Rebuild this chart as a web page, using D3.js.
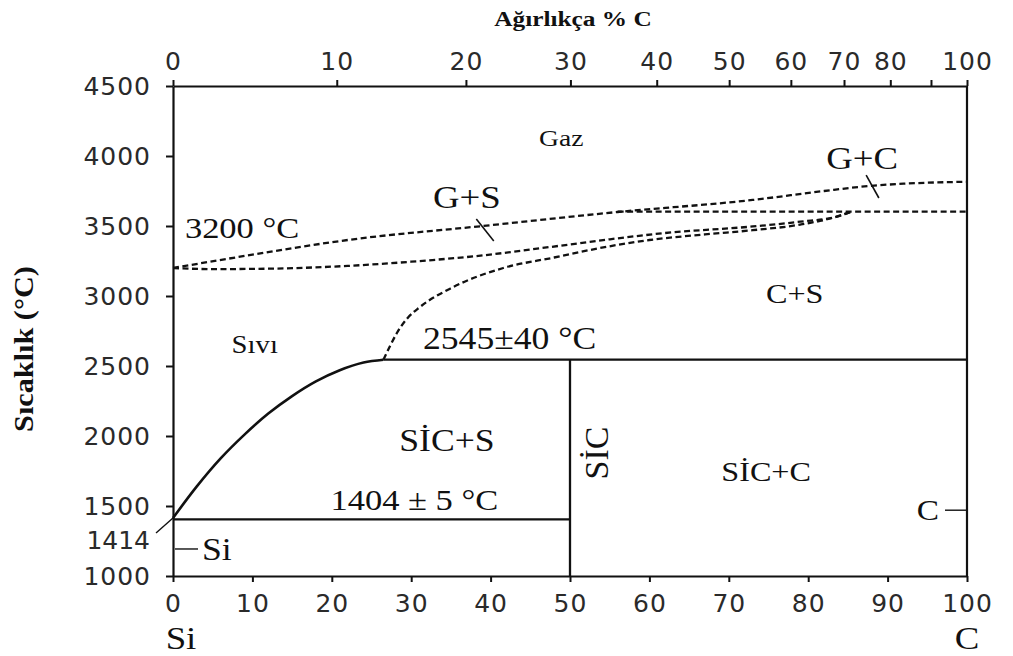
<!DOCTYPE html>
<html>
<head>
<meta charset="utf-8">
<script src="https://cdn.jsdelivr.net/npm/d3@7"></script>
<style>
  body { margin: 0; background: #fff; }
  svg { display: block; }
</style>
</head>
<body>
<script>
// Si-C phase diagram

var w = 1013;
var h = 656;

// tick values
var xTicks = [0, 10, 20, 30, 40, 50, 60, 70, 80, 90, 100];
var yTicks = [1000, 1500, 2000, 2500, 3000, 3500, 4000, 4500];
var topTicksWt = [0, 10, 20, 30, 40, 50, 60, 70, 80, 90, 100];
var topTickLabels = ["0", "10", "20", "30", "40", "50", "60", "70", "80", "", "100"];

// boundaries, [atom % C, temperature °C]
var liquidusSi = [[0, 1414], [3, 1640], [6, 1840], [9, 2010], [12, 2160], [15, 2285],
  [18, 2390], [21, 2470], [24, 2525], [26.5, 2545]];
var liquidusC = [[26.5, 2545], [27.4, 2650], [28.2, 2736], [29.5, 2840], [31.1, 2921], [35.3, 3064],
  [41.6, 3200], [48, 3275], [54, 3345], [60, 3400], [67, 3440], [73, 3470], [79, 3510],
  [83.6, 3567], [85.3, 3600]];
var liquidGas = [[0, 3200], [5, 3192], [12, 3195], [22, 3215], [30, 3245], [39, 3290],
  [47.5, 3350], [55, 3405], [62, 3450], [72.7, 3495], [79, 3531], [83.6, 3567], [85.3, 3600]];
var gasBoundary = [[0, 3200], [10, 3295], [22, 3400], [39, 3500], [56, 3600], [73, 3686],
  [82, 3750], [87.5, 3785], [92, 3802], [100, 3816]];
var gasCarbon = [[56, 3602], [100, 3602]];
var eutectic = [[0, 1404], [50, 1404]];
var peritectic = [[26.5, 2545], [100, 2545]];
var sicLine = [[50, 1000], [50, 2545]];
var tieGS = [[38.2, 3550], [40.4, 3393]];
var tieGC = [[87.3, 3864], [88.9, 3700]];

// labels inside the diagram
var labels = [
  { t: "Gaz", x: 48.9, y: 4129, s: 24 },
  { t: "G+S", x: 37, y: 3707, s: 32 },
  { t: "G+C", x: 86.8, y: 3986, s: 32 },
  { t: "3200 °C", x: 8.7, y: 3486, s: 30 },
  { t: "C+S", x: 78.3, y: 3014, s: 28 },
  { t: "Sıvı", x: 10.3, y: 2650, s: 25 },
  { t: "2545±40 °C", x: 42.4, y: 2700, s: 31 },
  { t: "SİC+S", x: 34.5, y: 1971, s: 31 },
  { t: "SİC+C", x: 74.7, y: 1743, s: 28 },
  { t: "1404 ± 5 °C", x: 30.4, y: 1543, s: 30 }
];

var serif = "'Liberation Serif', 'Times New Roman', serif";
var sans = "'DejaVu Sans', sans-serif";
var stretch = 1.15;

var x = d3.scaleLinear().domain([0, 100]).range([173, 967]);
var y = d3.scaleLinear().domain([1000, 4500]).range([576, 86]);

// weight % C to atom % C
function wtToAt(wt) {
  var c = wt / 12.011;
  var si = (100 - wt) / 28.086;
  return (100 * c) / (c + si);
}

var svg = d3.select("body").append("svg").attr("width", w).attr("height", h);

svg.append("rect").attr("width", w).attr("height", h).attr("fill", "#fff");

//Axes
var leftAxis = svg.append("g")
  .attr("transform", "translate(" + x(0) + ",0)")
  .call(d3.axisLeft(y).tickValues(yTicks).tickFormat(d3.format("d"))
    .tickSize(7).tickSizeOuter(0).tickPadding(15));

var bottomAxis = svg.append("g")
  .attr("transform", "translate(0," + y(1000) + ")")
  .call(d3.axisBottom(x).tickValues(xTicks).tickFormat(d3.format("d"))
    .tickSize(6).tickSizeOuter(0).tickPadding(12));

var topAxis = svg.append("g")
  .attr("transform", "translate(0," + y(4500) + ")")
  .call(d3.axisTop(x).tickValues(topTicksWt.map(wtToAt)).tickSize(6).tickSizeOuter(0).tickPadding(10)
    .tickFormat(function (d, i) { return topTickLabels[i]; }));

[leftAxis, bottomAxis, topAxis].forEach(function (g) {
  g.selectAll("path.domain").attr("stroke", "#111").attr("stroke-width", 2.2);
  g.selectAll(".tick line").attr("stroke", "#111").attr("stroke-width", 2);
  g.selectAll(".tick text")
    .style("font-family", sans)
    .style("font-size", "25px")
    .style("letter-spacing", "1px")
    .attr("fill", "#2a2a2a");
});

// right border
svg.append("line")
  .attr("x1", x(100)).attr("x2", x(100))
  .attr("y1", y(4500)).attr("y2", y(1000))
  .attr("stroke", "#111").attr("stroke-width", 2.2);

var line = d3.line()
  .x(function (d) { return x(d[0]); })
  .y(function (d) { return y(d[1]); });

var smooth = d3.line()
  .x(function (d) { return x(d[0]); })
  .y(function (d) { return y(d[1]); })
  .curve(d3.curveMonotoneX);

var round = d3.line()
  .x(function (d) { return x(d[0]); })
  .y(function (d) { return y(d[1]); })
  .curve(d3.curveCatmullRom.alpha(0.5));

// solid lines
svg.append("path").attr("d", round(liquidusSi))
  .attr("fill", "none").attr("stroke", "#111").attr("stroke-width", 2.6);

[eutectic, peritectic, sicLine].forEach(function (seg) {
  svg.append("path").attr("d", line(seg))
    .attr("fill", "none").attr("stroke", "#111").attr("stroke-width", 2.3);
});

// dashed lines
[liquidusC, liquidGas, gasBoundary, gasCarbon].forEach(function (seg) {
  svg.append("path").attr("d", smooth(seg))
    .attr("fill", "none").attr("stroke", "#111").attr("stroke-width", 2.3)
    .attr("stroke-dasharray", "6,3.5");
});

// little tie marks
[tieGS, tieGC].forEach(function (seg) {
  svg.append("path").attr("d", line(seg))
    .attr("fill", "none").attr("stroke", "#111").attr("stroke-width", 1.6);
});

// text helper, horizontally stretched serif
function label(px, py, txt, size, anchor, opts) {
  opts = opts || {};
  var t = svg.append("text")
    .attr("transform", "translate(" + px + "," + py + ")" +
      (opts.rotate ? " rotate(" + opts.rotate + ")" : "") +
      " scale(" + (opts.sx || stretch) + ",1)")
    .attr("text-anchor", anchor || "middle")
    .attr("dominant-baseline", "central")
    .style("font-family", opts.font || serif)
    .style("font-size", size + "px")
    .style("font-weight", opts.bold ? "bold" : "normal")
    .attr("fill", opts.fill || "#111")
    .text(txt);
  return t;
}

// region labels
labels.forEach(function (d) {
  label(x(d.x), y(d.y), d.t, d.s);
});

// SiC compound, vertical text
label(x(50) + 26, y(1879), "SİC", 34, "middle", { rotate: -90, sx: 1 });

// 1414 melting point of Si
svg.append("line")
  .attr("x1", x(0) - 17).attr("y1", y(1414) + 15)
  .attr("x2", x(0)).attr("y2", y(1414))
  .attr("stroke", "#111").attr("stroke-width", 1.4);
label(x(0) - 23, y(1414) + 22, "1414", 25, "end", { font: sans, sx: 1, fill: "#2a2a2a" });

// Si marker
svg.append("line")
  .attr("x1", x(0) + 2).attr("x2", x(0) + 25)
  .attr("y1", y(1193)).attr("y2", y(1193))
  .attr("stroke", "#111").attr("stroke-width", 1.4);
label(x(0) + 29, y(1193), "Si", 31, "start");

// C marker
svg.append("line")
  .attr("x1", x(100) - 22).attr("x2", x(100))
  .attr("y1", y(1470)).attr("y2", y(1470))
  .attr("stroke", "#111").attr("stroke-width", 1.4);
label(x(100) - 28, y(1470), "C", 29, "end");

// end members below the axis
label(x(0) + 8, 638, "Si", 32, "middle");
label(x(100), 638, "C", 32, "middle");

// axis titles
label(573, 19, "Ağırlıkça % C", 22, "middle", { bold: true });
label(24, 349, "Sıcaklık (°C)", 27, "middle", { bold: true, rotate: -90, sx: 1.12 });
</script>
</body>
</html>
